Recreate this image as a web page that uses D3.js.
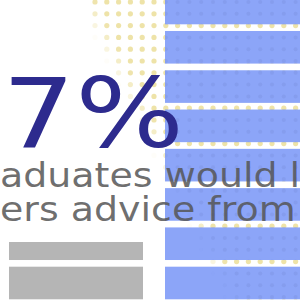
<!DOCTYPE html>
<html>
<head>
<meta charset="utf-8">
<script src="https://cdn.jsdelivr.net/npm/d3@7"></script>
<style>
  html, body { margin: 0; padding: 0; background: #fff; overflow: hidden; }
  svg { display: block; }
</style>
</head>
<body>
<div id="chart"></div>
<script>
// data
var rows = ["r1", "r2", "r3", "r4", "r5", "r6", "r7", "r8"];
var blueValues = [100, 100, 100, 100, 100, 100, 100, 100];
var grayRows = ["r7", "r8"];
var grayValues = [100, 100];
var bigLabel = "7%";
var textLines = ["aduates would l", "ers advice from"];

var width = 300,
    height = 302;

var svg = d3.select("#chart")
    .append("svg")
    .attr("width", width)
    .attr("height", height);

// row positions, shared by both bar groups
var yScale = d3.scaleBand()
    .domain(rows)
    .range([-8.3, 299.3])
    .paddingInner(0.17)
    .paddingOuter(0);

var xBlue = d3.scaleLinear().domain([0, 100]).range([165, 305]);
var xGray = d3.scaleLinear().domain([0, 100]).range([9, 143]);

// gray bars (bottom left)
svg.append("g")
    .selectAll("rect")
    .data(grayValues)
    .enter().append("rect")
    .attr("x", xGray(0))
    .attr("y", function(d, i) { return yScale(grayRows[i]); })
    .attr("width", function(d) { return xGray(d) - xGray(0); })
    .attr("height", yScale.bandwidth())
    .attr("fill", "#b5b5b5");

// white panel behind the text block
var line2Base = 221;
svg.append("rect")
    .attr("x", 0).attr("y", 0)
    .attr("width", 163).attr("height", line2Base + 21)
    .attr("fill", "#fff");

// dot grid, fading out towards the lower left
var step = 11.8;
var dots = [];
for (var gx = 95; gx < width + step; gx += step) {
    for (var gy = 2; gy < height + step; gy += step) {
        var a = Math.max(0, Math.min(1, (2 * (gx - 75) - gy) / 40));
        if (a > 0) dots.push({x: gx, y: gy, a: a});
    }
}
svg.append("g")
    .selectAll("circle")
    .data(dots)
    .enter().append("circle")
    .attr("cx", function(d) { return d.x; })
    .attr("cy", function(d) { return d.y; })
    .attr("r", 2.6)
    .attr("fill", "#ece09f")
    .attr("opacity", function(d) { return d.a * 0.9; });

// blue bars (right)
svg.append("g")
    .selectAll("rect")
    .data(blueValues)
    .enter().append("rect")
    .attr("x", xBlue(0))
    .attr("y", function(d, i) { return yScale(rows[i]); })
    .attr("width", function(d) { return xBlue(d) - xBlue(0); })
    .attr("height", yScale.bandwidth())
    .attr("fill", "#8ca5f8");

// faint dots showing through the bars
svg.append("defs").append("clipPath").attr("id", "barsClip")
    .selectAll("rect")
    .data(blueValues)
    .enter().append("rect")
    .attr("x", xBlue(0))
    .attr("y", function(d, i) { return yScale(rows[i]); })
    .attr("width", function(d) { return xBlue(d) - xBlue(0); })
    .attr("height", yScale.bandwidth());
svg.append("g")
    .attr("clip-path", "url(#barsClip)")
    .selectAll("circle")
    .data(dots)
    .enter().append("circle")
    .attr("cx", function(d) { return d.x; })
    .attr("cy", function(d) { return d.y; })
    .attr("r", 2)
    .attr("fill", "#6a7cc4")
    .attr("opacity", function(d) { return d.a * 0.18; });

// big number
svg.append("text")
    .attr("x", 2)
    .attr("y", 147)
    .attr("font-family", "DejaVu Sans, sans-serif")
    .attr("font-size", 97)
    .attr("fill", "#2d2b8e")
    .attr("transform", "scale(1.18,1)")
    .text(bigLabel);

// sentence
svg.append("g")
    .selectAll("text")
    .data(textLines)
    .enter().append("text")
    .attr("x", 0)
    .attr("y", function(d, i) { return 187 + i * 34.5; })
    .attr("font-family", "DejaVu Sans, sans-serif")
    .attr("font-size", 33)
    .attr("fill", "#555")
    .attr("fill-opacity", 0.85)
    .attr("transform", "scale(1.15,1)")
    .text(function(d) { return d; });
</script>
</body>
</html>
